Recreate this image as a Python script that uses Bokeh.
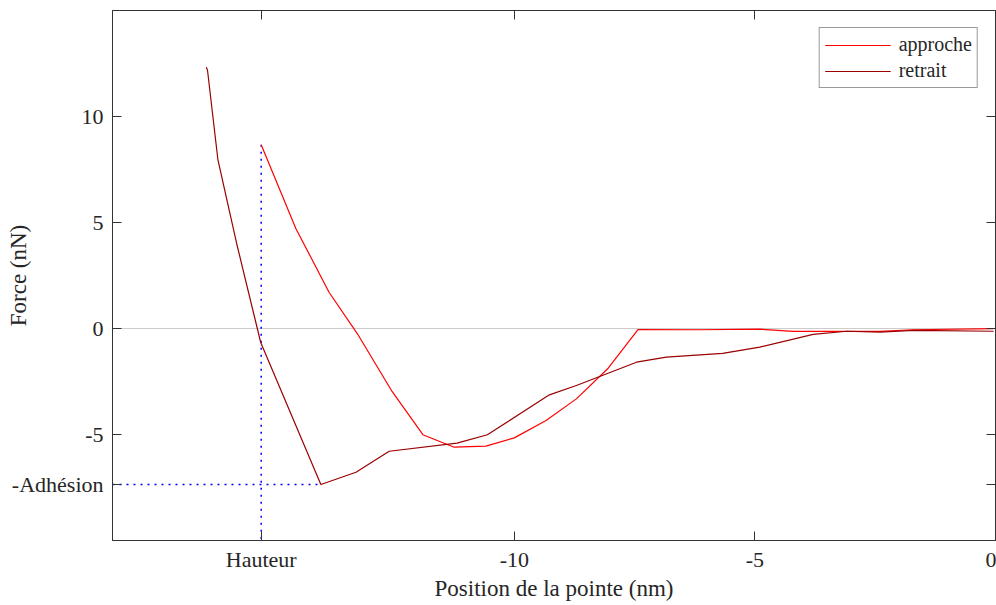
from bokeh.plotting import figure
from bokeh.models import (Range1d, FixedTicker, LinearAxis, Span,
                          Legend, LegendItem)
from bokeh.embed import file_html
from bokeh.resources import INLINE

# ---- data ----
approche_x = [-15.26, -14.54, -13.85, -13.26, -12.54, -11.90, -11.25, -10.59,
              -10.00, -9.34, -8.71, -8.06, -7.43, -6.15, -4.90, -4.20, -3.09,
              -2.40, -1.71, -0.04]
approche_y = [8.67, 4.72, 1.71, -0.25, -2.97, -5.01, -5.60, -5.55,
              -5.16, -4.34, -3.32, -1.90, -0.05, -0.06, -0.03, -0.14, -0.14,
              -0.14, -0.06, -0.01]

retrait_x = [-16.40, -16.375, -16.16, -15.77, -15.27, -14.02, -13.29, -12.60,
             -11.19, -10.56, -9.27, -8.71, -7.46, -6.84, -5.67, -4.90, -3.79,
             -3.09, -2.40, -1.71, -0.04]
retrait_y = [12.33, 12.17, 7.97, 4.01, -0.66, -7.36, -6.78, -5.79,
             -5.41, -5.01, -3.13, -2.69, -1.59, -1.35, -1.17, -0.88, -0.28,
             -0.13, -0.17, -0.09, -0.13]

x_ticks = [-10, -5, 0]
x_tick_labels = ["-10", "-5", "0"]
y_ticks = [-5, 0, 5, 10]
y_tick_labels = ["-5", "0", "5", "10"]
hauteur_label = "Hauteur"
adhesion_label = "-Adhésion"

hauteur = approche_x[0]
adhesion = min(retrait_y)
x_adh = retrait_x[retrait_y.index(adhesion)]

FONT = "Liberation Serif"
AX_COL = "#333333"
TXT_COL = "#262626"

x_range = Range1d(-18.35, 0)
y_range = Range1d(-10, 15)

p = figure(width=996, height=605, x_range=x_range, y_range=y_range,
           output_backend="svg", toolbar_location=None,
           min_border_left=112, min_border_right=1, min_border_top=10,
           min_border_bottom=65)
p.xaxis.visible = False
p.yaxis.visible = False
p.grid.visible = False
p.outline_line_color = AX_COL
p.outline_line_width = 1
p.background_fill_color = "white"
p.border_fill_color = "white"

all_x = [hauteur] + x_ticks
all_y = [adhesion] + y_ticks
x_over = {hauteur: hauteur_label}
x_over.update({t: l for t, l in zip(x_ticks, x_tick_labels)})
y_over = {adhesion: adhesion_label}
y_over.update({t: l for t, l in zip(y_ticks, y_tick_labels)})


def style_axis(ax, labels=True):
    ax.axis_line_color = AX_COL
    ax.major_tick_line_color = AX_COL
    ax.major_tick_in = 9
    ax.major_tick_out = 0
    ax.minor_tick_line_color = None
    ax.major_label_text_font = FONT
    ax.major_label_text_color = TXT_COL
    ax.major_label_text_font_size = "22px"
    if not labels:
        ax.major_label_text_font_size = "0px"
        ax.major_label_standoff = 0


xb = LinearAxis(ticker=FixedTicker(ticks=all_x), major_label_overrides=x_over)
style_axis(xb)
xb.major_label_standoff = 6
xb.axis_label = "Position de la pointe (nm)"
xb.axis_label_text_font = FONT
xb.axis_label_text_font_style = "normal"
xb.axis_label_text_font_size = "23px"
xb.axis_label_text_color = TXT_COL
xb.axis_label_standoff = 1
p.add_layout(xb, "below")

yl = LinearAxis(ticker=FixedTicker(ticks=all_y), major_label_overrides=y_over)
style_axis(yl)
yl.major_label_standoff = 9
yl.axis_label = "Force (nN)"
yl.axis_label_text_font = FONT
yl.axis_label_text_font_style = "normal"
yl.axis_label_text_font_size = "23px"
yl.axis_label_text_color = TXT_COL
yl.axis_label_standoff = -22
p.add_layout(yl, "left")

xt = LinearAxis(ticker=FixedTicker(ticks=all_x),
                major_label_overrides={t: "" for t in all_x})
style_axis(xt, labels=False)
p.add_layout(xt, "above")

yr = LinearAxis(ticker=FixedTicker(ticks=all_y),
                major_label_overrides={t: "" for t in all_y})
style_axis(yr, labels=False)
p.add_layout(yr, "right")

# zero line
p.add_layout(Span(location=0, dimension="width", line_color="#cccccc",
                  line_width=1, level="underlay"))

# blue dotted guides
p.line([hauteur, hauteur], [approche_y[0], y_range.start], line_color="#0000ff",
       line_dash="2 5", line_width=1.5)
p.line([x_range.start, x_adh], [adhesion, adhesion], line_color="#0000ff",
       line_dash="2 5", line_width=1.5)

r1 = p.line(approche_x, approche_y, line_color="#ff0000", line_width=1.2)
r2 = p.line(retrait_x, retrait_y, line_color="#990000", line_width=1.2)

legend = Legend(items=[LegendItem(label="approche", renderers=[r1]),
                       LegendItem(label="retrait", renderers=[r2])],
                location="top_right")
legend.margin = 17
legend.padding = 5
legend.spacing = 3
legend.glyph_width = 66
legend.glyph_height = 16
legend.label_height = 16
legend.label_standoff = 8
legend.label_text_font = FONT
legend.label_text_font_size = "20px"
legend.label_text_color = TXT_COL
legend.border_line_color = AX_COL
legend.border_line_width = 1
legend.background_fill_alpha = 1.0
p.add_layout(legend, "center")

open("out.html", "w").write(file_html(p, INLINE))
